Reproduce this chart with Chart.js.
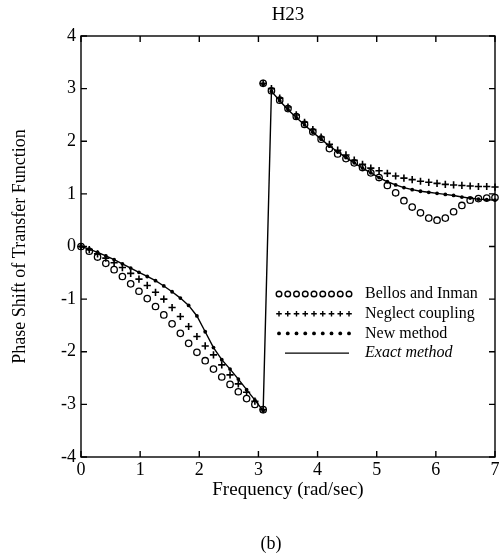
<!DOCTYPE html>
<html>
<head>
<meta charset="utf-8">
<title>H23</title>
<script src="https://cdn.jsdelivr.net/npm/chart.js@4.4.1/dist/chart.umd.min.js"></script>
<style>
  html, body { margin: 0; padding: 0; background: #fff; }
</style>
</head>
<body>
<canvas id="phaseChart" width="502" height="556"></canvas>
<script>
// frequency grid (rad/sec), split where the phase wraps from -pi to +pi
const freqLow = [0, 0.14, 0.28, 0.42, 0.56, 0.70, 0.84, 0.98, 1.12, 1.26, 1.40, 1.54,
    1.68, 1.82, 1.96, 2.10, 2.24, 2.38, 2.52, 2.66, 2.80, 2.94, 3.08];
const freqHigh = [3.08, 3.22, 3.36, 3.50, 3.64, 3.78, 3.92, 4.06, 4.20, 4.34, 4.48, 4.62,
    4.76, 4.90, 5.04, 5.18, 5.32, 5.46, 5.60, 5.74, 5.88, 6.02, 6.16, 6.30, 6.44, 6.58,
    6.72, 6.86, 7.00];

// phase shift of H23 for each method
const bellosLow = [0, -0.09, -0.20, -0.32, -0.44, -0.57, -0.71, -0.85, -0.99, -1.14, -1.30,
    -1.47, -1.65, -1.84, -2.01, -2.17, -2.33, -2.48, -2.62, -2.76, -2.89, -3.00, -3.10];
const bellosHigh = [3.10, 2.96, 2.78, 2.62, 2.47, 2.32, 2.18, 2.04, 1.86, 1.76, 1.67, 1.59,
    1.50, 1.40, 1.31, 1.16, 1.02, 0.87, 0.75, 0.64, 0.54, 0.50, 0.54, 0.66, 0.78, 0.88,
    0.91, 0.92, 0.93];

const neglectLow = [0, -0.06, -0.14, -0.22, -0.31, -0.40, -0.51, -0.62, -0.74, -0.87, -1.00,
    -1.16, -1.33, -1.52, -1.71, -1.89, -2.06, -2.25, -2.44, -2.61, -2.77, -2.94, -3.10];
const neglectHigh = [3.10, 3.00, 2.82, 2.65, 2.50, 2.36, 2.22, 2.08, 1.94, 1.83, 1.74, 1.64,
    1.56, 1.49, 1.44, 1.39, 1.34, 1.30, 1.27, 1.24, 1.22, 1.20, 1.18, 1.17, 1.16, 1.15,
    1.14, 1.14, 1.13];

const newLow = [0, -0.05, -0.11, -0.18, -0.25, -0.33, -0.41, -0.49, -0.57, -0.65, -0.75,
    -0.86, -0.98, -1.12, -1.32, -1.62, -1.92, -2.15, -2.33, -2.52, -2.72, -2.92, -3.12];
const newHigh = [3.08, 2.95, 2.77, 2.60, 2.45, 2.31, 2.17, 2.04, 1.91, 1.80, 1.69, 1.59,
    1.49, 1.40, 1.31, 1.23, 1.17, 1.12, 1.08, 1.05, 1.03, 1.01, 0.99, 0.97, 0.94, 0.92,
    0.90, 0.89, 0.88];

// exact solution; the null lets the line run straight up across the wrap
const exactLow = [0, -0.05, -0.11, -0.18, -0.25, -0.33, -0.41, -0.49, -0.57, -0.65, -0.75,
    -0.86, -0.98, -1.12, -1.32, -1.62, -1.92, -2.15, -2.33, -2.52, -2.72, -2.92, -3.12];
const exactHigh = [null, 2.95, 2.77, 2.60, 2.45, 2.31, 2.17, 2.04, 1.91, 1.80, 1.69, 1.59,
    1.49, 1.40, 1.31, 1.23, 1.17, 1.12, 1.08, 1.05, 1.03, 1.01, 0.99, 0.97, 0.94, 0.92,
    0.90, 0.89, 0.88];

const methodLabels = ['Bellos and Inman', 'Neglect coupling', 'New method', 'Exact method'];
const xTicks = [0, 1, 2, 3, 4, 5, 6, 7];
const yTicks = [-4, -3, -2, -1, 0, 1, 2, 3, 4];

const SERIF = "'Liberation Serif', 'Times New Roman', serif";
const INK = '#000';

function pts(xs, ys) {
    return xs.map((v, i) => ({ x: v, y: ys[i] }));
}

// box with inward ticks, title, caption and the legend
const framePlugin = {
    id: 'framePlugin',
    afterDraw(chart) {
        const { ctx, chartArea: a, scales: { x, y } } = chart;
        ctx.save();
        ctx.strokeStyle = INK;
        ctx.lineWidth = 1.4;
        ctx.strokeRect(a.left, a.top, a.right - a.left, a.bottom - a.top);

        const len = 6;
        ctx.beginPath();
        xTicks.forEach(v => {
            const px = x.getPixelForValue(v);
            ctx.moveTo(px, a.bottom); ctx.lineTo(px, a.bottom - len);
            ctx.moveTo(px, a.top); ctx.lineTo(px, a.top + len);
        });
        yTicks.forEach(v => {
            const py = y.getPixelForValue(v);
            ctx.moveTo(a.left, py); ctx.lineTo(a.left + len, py);
            ctx.moveTo(a.right, py); ctx.lineTo(a.right - len, py);
        });
        ctx.stroke();

        ctx.fillStyle = INK;
        ctx.textAlign = 'center';
        ctx.textBaseline = 'middle';
        ctx.font = '19px ' + SERIF;
        ctx.fillText('H23', (a.left + a.right) / 2, 15);
        ctx.font = '18px ' + SERIF;
        ctx.fillText('(b)', 271, 544);

        // legend: a row of markers (or a line) and the label
        const lx0 = 279, lx1 = 349, tx = 365, ly0 = 294, rowH = 19.7;
        chart.data.datasets.forEach((ds, i) => {
            const ly = ly0 + i * rowH;
            if (ds.showLine) {
                ctx.lineWidth = ds.borderWidth;
                ctx.beginPath();
                ctx.moveTo(lx0 + 6, ly); ctx.lineTo(lx1, ly);
                ctx.stroke();
            } else {
                ctx.strokeStyle = INK;
                ctx.fillStyle = ds.pointBackgroundColor;
                for (let k = 0; k < 9; k++) {
                    const px = lx0 + k * (lx1 - lx0) / 8;
                    Chart.helpers.drawPoint(ctx, {
                        pointStyle: ds.pointStyle,
                        radius: Math.min(ds.pointRadius, 2.8),
                        borderWidth: ds.borderWidth,
                        rotation: 0
                    }, px, ly);
                }
            }
            ctx.fillStyle = INK;
            ctx.textAlign = 'left';
            ctx.font = (ds.showLine ? 'italic ' : '') + '16px ' + SERIF;
            ctx.fillText(ds.label, tx, ly);
        });
        ctx.restore();
    }
};

new Chart(document.getElementById('phaseChart').getContext('2d'), {
    type: 'scatter',
    data: {
        datasets: [{
            label: methodLabels[0],
            data: [...pts(freqLow, bellosLow), ...pts(freqHigh, bellosHigh)],
            pointStyle: 'circle',
            pointRadius: 3.2,
            borderWidth: 1.3,
            borderColor: INK,
            pointBackgroundColor: 'rgba(0,0,0,0)',
            backgroundColor: 'rgba(0,0,0,0)',
            clip: false
        }, {
            label: methodLabels[1],
            data: [...pts(freqLow, neglectLow), ...pts(freqHigh, neglectHigh)],
            pointStyle: 'cross',
            pointRadius: 3.6,
            borderWidth: 1.6,
            borderColor: INK,
            pointBackgroundColor: INK,
            clip: false
        }, {
            label: methodLabels[2],
            data: [...pts(freqLow, newLow), ...pts(freqHigh, newHigh)],
            pointStyle: 'circle',
            pointRadius: 1.9,
            borderWidth: 0,
            borderColor: INK,
            pointBackgroundColor: INK,
            backgroundColor: INK,
            clip: false
        }, {
            label: methodLabels[3],
            data: [...pts(freqLow, exactLow), ...pts(freqHigh, exactHigh)],
            showLine: true,
            spanGaps: true,
            pointRadius: 0,
            borderWidth: 1.4,
            borderColor: INK,
            pointBackgroundColor: INK
        }]
    },
    options: {
        responsive: false,
        animation: false,
        layout: { padding: { top: 36, right: 7, bottom: 0, left: 0 } },
        plugins: {
            legend: { display: false },
            tooltip: { enabled: false },
            title: { display: false }
        },
        scales: {
            x: {
                type: 'linear',
                min: 0,
                max: 7,
                afterFit: s => { s.height = 99; },
                afterBuildTicks: s => { s.ticks = xTicks.map(v => ({ value: v })); },
                grid: { display: false, drawTicks: false },
                border: { display: false },
                ticks: { color: INK, padding: 2, font: { family: SERIF, size: 18 } },
                title: {
                    display: true,
                    text: 'Frequency (rad/sec)',
                    color: INK,
                    font: { family: SERIF, size: 19 },
                    padding: { top: 0, bottom: 55 }
                }
            },
            y: {
                type: 'linear',
                min: -4,
                max: 4,
                afterFit: s => { s.width = 81; },
                afterBuildTicks: s => { s.ticks = yTicks.map(v => ({ value: v })); },
                grid: { display: false, drawTicks: false },
                border: { display: false },
                ticks: { color: INK, padding: 5, font: { family: SERIF, size: 18 } },
                title: {
                    display: true,
                    text: 'Phase Shift of Transfer Function',
                    color: INK,
                    font: { family: SERIF, size: 18 },
                    padding: { top: 9, bottom: 0 }
                }
            }
        }
    },
    plugins: [framePlugin]
});
</script>
</body>
</html>
